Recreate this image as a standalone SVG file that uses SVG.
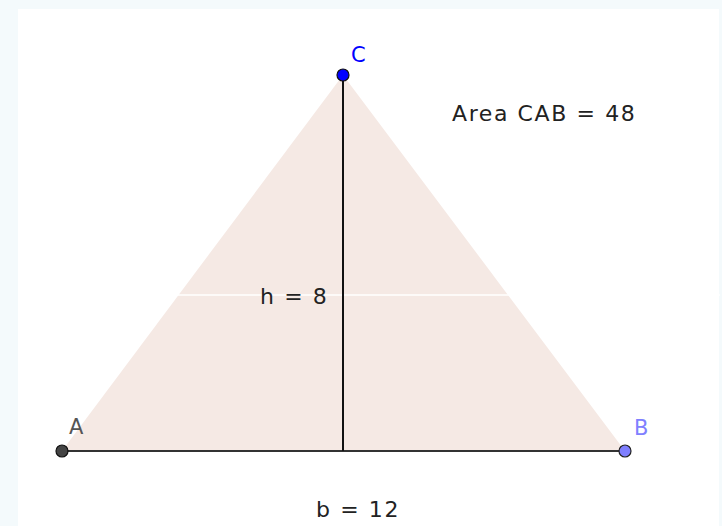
<svg xmlns="http://www.w3.org/2000/svg" width="722" height="526" viewBox="0 0 722 526">
<style>
.lbl{font-family:"DejaVu Sans","Liberation Sans",sans-serif;font-size:22px;letter-spacing:1.6px;fill:#222}
.pt{font-family:"DejaVu Sans","Liberation Sans",sans-serif;font-size:21px}
</style>
<rect x="0" y="0" width="722" height="526" fill="#f4fafc"/>
<rect x="18" y="9" width="701" height="517" fill="#ffffff"/>
<g id="triangle">
<polygon points="62,451 625,451 343,75" fill="#f5e9e4"/>
</g>
<line x1="18" y1="295" x2="720" y2="295" stroke="#ffffff" stroke-width="1.5"/>
<g id="connectors">
<line x1="62" y1="451" x2="625" y2="451" stroke="#333333" stroke-width="2"/>
<line x1="343" y1="75" x2="343" y2="451" stroke="#111111" stroke-width="2"/>
</g>
<g id="A">
<circle cx="62" cy="451" r="6" fill="#444444" stroke="#111" stroke-width="1.2"/>
<text class="pt" x="69" y="434" fill="#555555">A</text>
</g>
<g id="B">
<circle cx="625" cy="451" r="6" fill="#7f7fff" stroke="#222" stroke-width="1.2"/>
<text class="pt" x="634" y="435" fill="#8080ff">B</text>
</g>
<g id="C">
<circle cx="343" cy="75" r="6" fill="#0000ff" stroke="#111" stroke-width="1.2"/>
<text class="pt" x="351" y="62" fill="#0000ff">C</text>
</g>
<g id="labels">
<text class="lbl" x="452" y="121">Area CAB = 48</text>
<text class="lbl" x="260" y="304">h = 8</text>
<text class="lbl" x="316" y="517">b = 12</text>
</g>
</svg>
